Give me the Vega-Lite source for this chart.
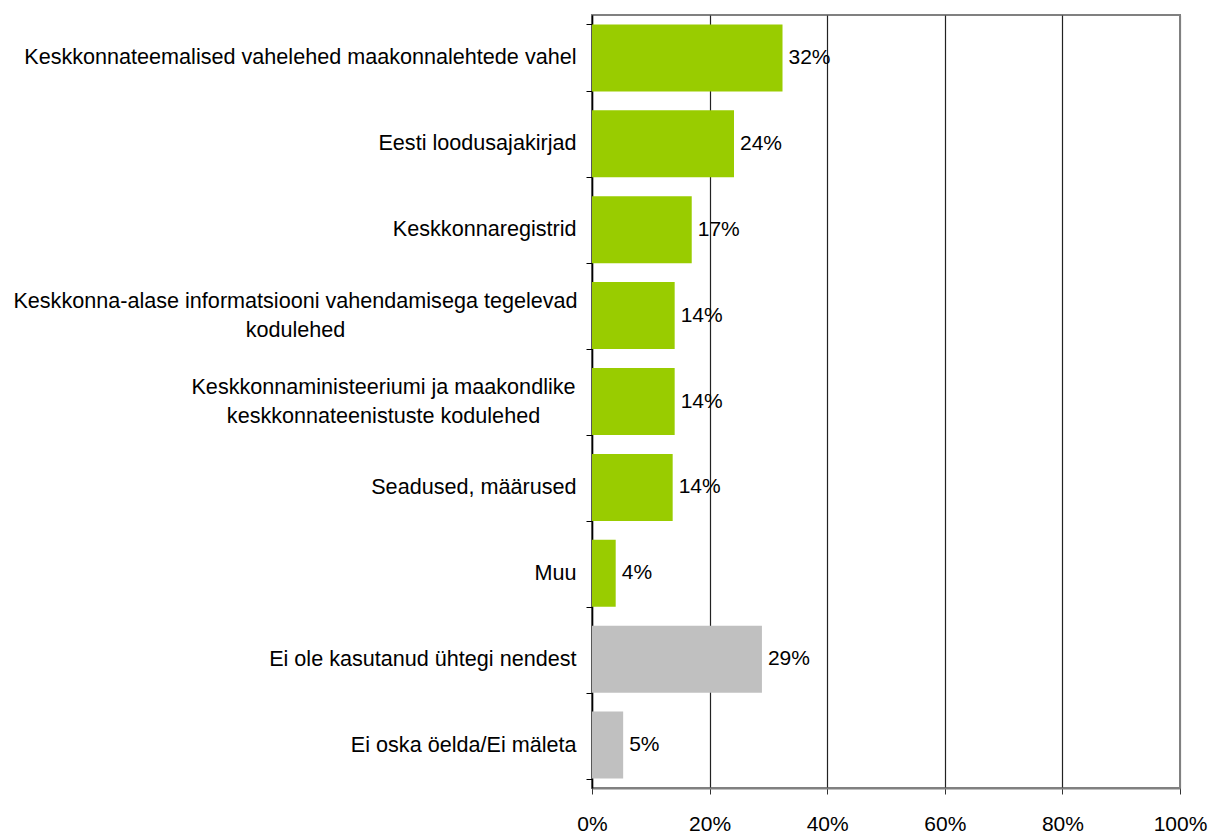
{
  "$schema": "https://vega.github.io/schema/vega-lite/v6.json",
  "autosize": {"type": "none"},
  "padding": {"left": 592, "top": 15, "right": 30, "bottom": 46},
  "width": 588,
  "height": 773,
  "background": "white",
  "config": {
    "view": {"stroke": "#808080", "strokeWidth": 2},
    "font": "Liberation Sans"
  },
  "data": {
    "values": [
      {"category": "Keskkonnateemalised vahelehed maakonnalehtede vahel", "value": 0.324, "group": "a"},
      {"category": "Eesti loodusajakirjad", "value": 0.2415, "group": "a"},
      {"category": "Keskkonnaregistrid", "value": 0.1696, "group": "a"},
      {"category": "Keskkonna-alase informatsiooni vahendamisega tegelevad|kodulehed", "value": 0.1406, "group": "a"},
      {"category": "Keskkonnaministeeriumi ja maakondlike|keskkonnateenistuste kodulehed", "value": 0.1406, "group": "a"},
      {"category": "Seadused, määrused", "value": 0.1372, "group": "a"},
      {"category": "Muu", "value": 0.0403, "group": "a"},
      {"category": "Ei ole kasutanud ühtegi nendest", "value": 0.289, "group": "b"},
      {"category": "Ei oska öelda/Ei mäleta", "value": 0.053, "group": "b"}
    ]
  },
  "encoding": {
    "y": {
      "field": "category",
      "type": "nominal",
      "sort": null,
      "title": null,
      "scale": {"paddingInner": 0.22, "paddingOuter": 0.11},
      "axis": {
        "labelExpr": "split(datum.label, '|')",
        "labelFontSize": 21.6,
        "labelColor": "black",
        "labelLimit": 700,
        "labelLineHeight": 29,
        "labelAlign": {"condition": {"test": "indexof(datum.label, '|') >= 0", "value": "center"}, "value": "right"},
        "labelOffset": {"condition": {"test": "indexof(datum.label, '|') >= 0", "value": -14}, "value": 0},
        "labelPadding": {"condition": [
          {"test": "indexof(datum.label, 'Keskkonna-alase') >= 0", "value": 291},
          {"test": "indexof(datum.label, 'Keskkonnaministeeriumi') >= 0", "value": 203}
        ], "value": 10},
        "tickBand": "extent",
        "tickSize": 6,
        "tickColor": "black",
        "domainColor": "black",
        "domainWidth": 1.5,
        "grid": false
      }
    },
    "x": {
      "field": "value",
      "type": "quantitative",
      "title": null,
      "scale": {"domain": [0, 1], "nice": false},
      "axis": {
        "values": [0, 0.2, 0.4, 0.6, 0.8, 1],
        "format": ".0%",
        "labelFontSize": 21,
        "labelColor": "black",
        "labelPadding": 19,
        "labelFlush": false,
        "tickSize": 6,
        "tickColor": "#333333",
        "domainColor": "#808080",
        "domainWidth": 2,
        "grid": true,
        "gridColor": {"condition": {"test": "datum.value >= 1", "value": "#808080"}, "value": "#222222"},
        "gridWidth": 1.2
      }
    }
  },
  "layer": [
    {
      "mark": {"type": "bar"},
      "encoding": {
        "color": {
          "field": "group",
          "type": "nominal",
          "scale": {"domain": ["a", "b"], "range": ["#99CC00", "#C0C0C0"]},
          "legend": null
        }
      }
    },
    {
      "mark": {"type": "text", "align": "left", "baseline": "middle", "dx": 6, "fontSize": 21, "color": "black"},
      "encoding": {
        "text": {"field": "value", "type": "quantitative", "format": ".0%"}
      }
    }
  ]
}
